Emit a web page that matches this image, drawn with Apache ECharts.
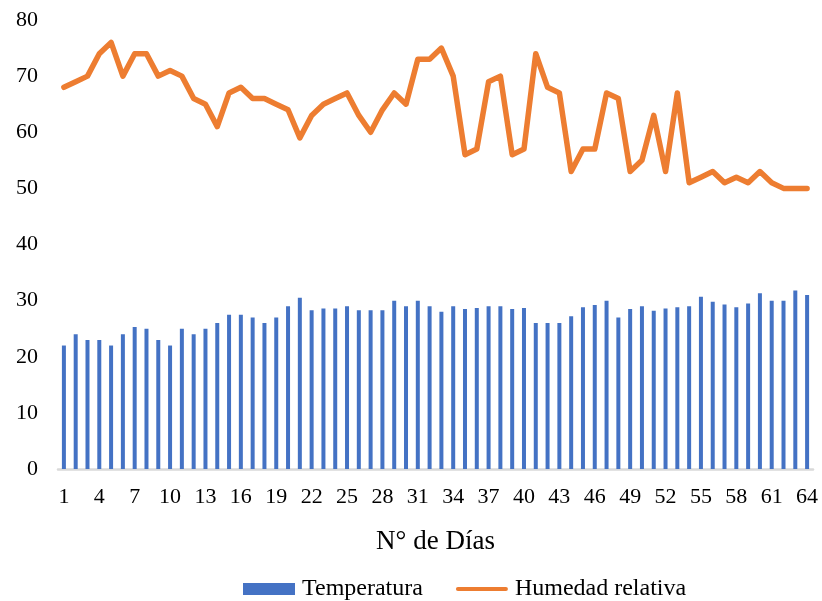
<!DOCTYPE html>
<html>
<head>
<meta charset="utf-8">
<script src="https://cdn.jsdelivr.net/npm/echarts@6/dist/echarts.min.js"></script>
<style>
  html, body { margin: 0; padding: 0; background: #ffffff; }
  #chart { width: 822px; height: 601px; }
</style>
</head>
<body>
<div id="chart"></div>
<script>
// Días de medición (1..64)
const dias = [
  '1','2','3','4','5','6','7','8','9','10','11','12','13','14','15','16',
  '17','18','19','20','21','22','23','24','25','26','27','28','29','30','31','32',
  '33','34','35','36','37','38','39','40','41','42','43','44','45','46','47','48',
  '49','50','51','52','53','54','55','56','57','58','59','60','61','62','63','64'
];

// Temperatura diaria (°C)
const temperatura = [
  22, 24, 23, 23, 22, 24, 25.3, 25, 23, 22, 25, 24, 25, 26, 27.5, 27.5,
  27, 26, 27, 29, 30.5, 28.3, 28.6, 28.6, 29, 28.3, 28.3, 28.3, 30, 29, 30, 29,
  28, 29, 28.5, 28.7, 29, 29, 28.5, 28.7, 26, 26, 26, 27.2, 28.8, 29.2, 30, 27,
  28.5, 29, 28.2, 28.6, 28.8, 29, 30.7, 29.8, 29.3, 28.8, 29.5, 31.3, 30, 30, 31.8, 31
];

// Humedad relativa diaria (%)
const humedad = [
  68, 69, 70, 74, 76, 70, 74, 74, 70, 71, 70, 66, 65, 61, 67, 68,
  66, 66, 65, 64, 59, 63, 65, 66, 67, 63, 60, 64, 67, 65, 73, 73,
  75, 70, 56, 57, 69, 70, 56, 57, 74, 68, 67, 53, 57, 57, 67, 66,
  53, 55, 63, 53, 67, 51, 52, 53, 51, 52, 51, 53, 51, 50, 50, 50
];

const serif = '"Liberation Serif", "Times New Roman", serif';

// Legend swatch for the humidity line: a thick stroke with rounded ends
const lineIcon = 'path://M2,0 L50,0 A2,2 0 0 1 50,4 L2,4 A2,2 0 0 1 2,0 Z';

const chart = echarts.init(document.getElementById('chart'), null, { renderer: 'canvas' });
chart.setOption({
  animation: false,
  backgroundColor: '#ffffff',
  textStyle: { fontFamily: serif, color: '#000000' },
  grid: { left: 58, right: 9, top: 20, bottom: 132, containLabel: false },
  legend: {
    left: 238,
    top: 572,
    itemGap: 33,
    itemWidth: 52,
    itemHeight: 12,
    symbolKeepAspect: true,
    textStyle: { fontFamily: serif, fontSize: 24, color: '#000000', padding: [0, 0, 0, 2] },
    data: [
      { name: 'Temperatura', icon: 'rect' },
      { name: 'Humedad relativa', icon: lineIcon }
    ]
  },
  xAxis: {
    type: 'category',
    data: dias,
    boundaryGap: true,
    name: 'N° de Días',
    nameLocation: 'middle',
    nameGap: 59,
    nameTextStyle: { fontFamily: serif, fontSize: 27, color: '#000000' },
    axisLine: { show: true, lineStyle: { color: '#d9d9d9', width: 2.5 } },
    axisTick: { show: false },
    axisLabel: {
      interval: 2,
      margin: 17,
      fontFamily: serif,
      fontSize: 22,
      color: '#000000'
    },
    splitLine: { show: false }
  },
  yAxis: {
    type: 'value',
    min: 0,
    max: 80,
    interval: 10,
    axisLine: { show: false },
    axisTick: { show: false },
    splitLine: { show: false },
    axisLabel: { margin: 20, fontFamily: serif, fontSize: 22, color: '#000000' }
  },
  series: [
    {
      name: 'Temperatura',
      type: 'bar',
      data: temperatura,
      barWidth: 4,
      itemStyle: { color: '#4472C4' },
      z: 2
    },
    {
      name: 'Humedad relativa',
      type: 'line',
      data: humedad,
      symbol: 'none',
      lineStyle: { color: '#ED7D31', width: 5.5, cap: 'round', join: 'round' },
      itemStyle: { color: '#ED7D31' },
      z: 3
    }
  ]
});
</script>
</body>
</html>
